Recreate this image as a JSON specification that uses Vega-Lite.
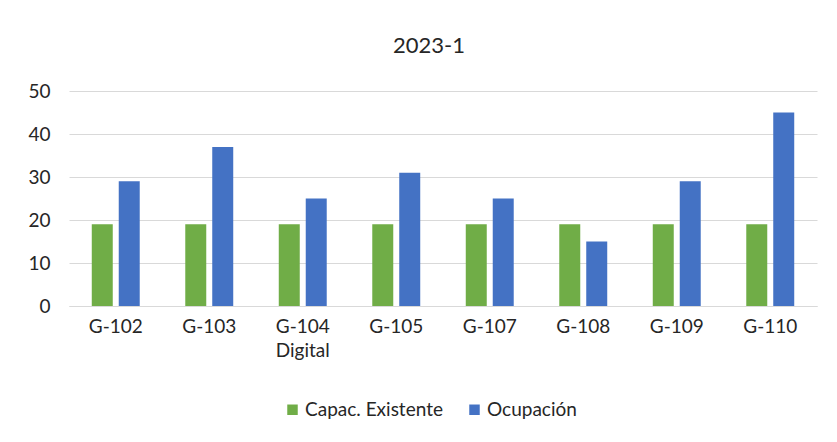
{
  "$schema": "https://vega.github.io/schema/vega-lite/v6.json",
  "autosize": "none",
  "width": 748,
  "height": 215,
  "padding": {"left": 69, "top": 91, "right": 20, "bottom": 136},
  "background": "white",
  "title": {"text": "2023-1", "fontSize": 22, "font": "Lato", "fontWeight": "normal", "color": "#262626", "anchor": "middle", "dx": -14, "offset": 24},
  "data": {"values": [
    {"sala": "G-102", "serie": "Capac. Existente", "valor": 19},
    {"sala": "G-102", "serie": "Ocupación", "valor": 29},
    {"sala": "G-103", "serie": "Capac. Existente", "valor": 19},
    {"sala": "G-103", "serie": "Ocupación", "valor": 37},
    {"sala": "G-104 Digital", "serie": "Capac. Existente", "valor": 19},
    {"sala": "G-104 Digital", "serie": "Ocupación", "valor": 25},
    {"sala": "G-105", "serie": "Capac. Existente", "valor": 19},
    {"sala": "G-105", "serie": "Ocupación", "valor": 31},
    {"sala": "G-107", "serie": "Capac. Existente", "valor": 19},
    {"sala": "G-107", "serie": "Ocupación", "valor": 25},
    {"sala": "G-108", "serie": "Capac. Existente", "valor": 19},
    {"sala": "G-108", "serie": "Ocupación", "valor": 15},
    {"sala": "G-109", "serie": "Capac. Existente", "valor": 19},
    {"sala": "G-109", "serie": "Ocupación", "valor": 29},
    {"sala": "G-110", "serie": "Capac. Existente", "valor": 19},
    {"sala": "G-110", "serie": "Ocupación", "valor": 45}
  ]},
  "mark": {"type": "bar"},
  "encoding": {
    "x": {
      "field": "sala", "type": "nominal", "sort": null,
      "scale": {"paddingInner": 0.487, "paddingOuter": 0.2435},
      "axis": {
        "title": null, "labelAngle": 0, "ticks": false, "domain": true, "domainColor": "#D9D9D9", "domainWidth": 1,
        "labelFont": "Lato", "labelFontSize": 19, "labelColor": "#262626", "labelPadding": 11,
        "labelExpr": "split(datum.label, ' ')", "labelLineHeight": 24
      }
    },
    "xOffset": {"field": "serie", "type": "nominal", "sort": ["Capac. Existente", "Ocupación"], "scale": {"paddingInner": 0.222}},
    "y": {
      "field": "valor", "type": "quantitative",
      "scale": {"domain": [0, 50], "nice": false},
      "axis": {
        "title": null, "values": [0, 10, 20, 30, 40, 50], "ticks": false, "domain": false,
        "grid": true, "gridColor": "#D9D9D9", "gridWidth": 1,
        "labelFont": "Lato", "labelFontSize": 19, "labelColor": "#262626", "labelPadding": 19
      }
    },
    "color": {
      "field": "serie", "type": "nominal",
      "scale": {"domain": ["Capac. Existente", "Ocupación"], "range": ["#70AD47", "#4472C4"]},
      "legend": {
        "title": null, "orient": "none", "legendX": 214, "legendY": 309, "direction": "horizontal",
        "symbolType": "square", "symbolSize": 110, "symbolStrokeWidth": 0, "symbolOpacity": 1,
        "labelFont": "Lato", "labelFontSize": 19, "labelColor": "#262626", "columnPadding": 22, "labelOffset": 3
      }
    }
  },
  "config": {"view": {"stroke": null}}
}
